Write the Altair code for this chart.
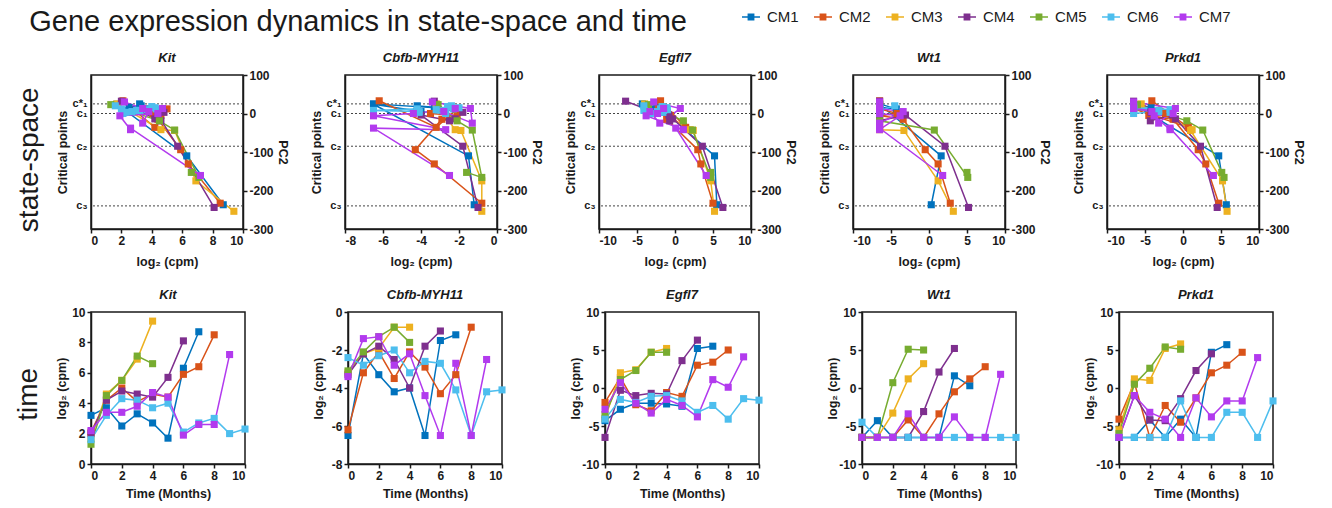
import altair as alt
import pandas as pd

FONT = "Liberation Sans"
INK = "#1a1a1a"

CMS = ["CM1", "CM2", "CM3", "CM4", "CM5", "CM6", "CM7"]
COLORS = ["#0072BD", "#D95319", "#EDB120", "#7E2F8E", "#77AC30", "#4DBEEE", "#B23AEE"]
GENES = ["Kit", "Cbfb-MYH11", "Egfl7", "Wt1", "Prkd1"]

# PC2 (state-space) position of each CM at each month
PC2 = {
    "CM1": [25, 12, 16, 20, 5, 24, -110, -237],
    "CM2": [33, -36, 12, 0, -5, -15, -94, -131, -233],
    "CM3": [25, -42, -44, -175, -254],
    "CM4": [32, -14, 3, -19, -4, -85, -244],
    "CM5": [23, -19, -43, -166, -153],
    "CM6": [20, 8, 12, 15, 10, 18, 0, 5, 8, 12, 3],
    "CM7": [30, 13, -25, 5, 13, 0, -6, -42, -38, -161],
}

# log2(cpm) per month
KIT = {
    "CM1": [3.2, 3.7, 2.5, 3.3, 2.7, 1.7, 6.3, 8.7],
    "CM2": [2.1, 4.2, 5.0, 4.1, 4.6, 4.4, 5.9, 6.4, 8.5],
    "CM3": [1.7, 4.6, 5.5, 6.9, 9.4],
    "CM4": [2.0, 4.2, 4.8, 4.6, 4.4, 5.7, 8.1],
    "CM5": [1.3, 4.5, 5.5, 7.1, 6.6],
    "CM6": [1.6, 3.2, 4.3, 4.2, 3.7, 4.0, 2.1, 2.7, 3.0, 2.0, 2.3],
    "CM7": [2.2, 3.4, 3.4, 3.8, 4.7, 4.4, 1.9, 2.6, 2.6, 7.2],
}
CBFB = {
    "CM1": [-6.5, -2.2, -3.3, -4.2, -4.0, -6.5, -1.5, -1.2],
    "CM2": [-6.2, -3.2, -2.1, -3.5, -2.1, -2.9, -4.3, -3.3, -0.8],
    "CM3": [-3.2, -2.2, -1.9, -0.8, -0.8],
    "CM4": [-3.3, -2.2, -1.8, -2.5, -4.0, -1.8, -1.0],
    "CM5": [-3.1, -2.1, -1.3, -0.8, -1.6],
    "CM6": [-2.4, -2.8, -2.3, -2.0, -3.2, -2.6, -2.7, -4.1, -6.5, -4.2, -4.1],
    "CM7": [-3.4, -1.4, -1.3, -2.8, -2.2, -4.4, -6.5, -2.7, -6.5, -2.5],
}
EGFL7 = {
    "CM1": [-4.3, -2.8, -2.0, -2.0, -2.1, -2.4, 5.2, 5.5],
    "CM2": [-1.9, 1.4, -2.2, -3.0, -0.6, -1.1, 3.0, 3.4, 5.0],
    "CM3": [-4.0, 2.0, 2.4, 4.7, 5.2],
    "CM4": [-6.5, -0.3, -1.0, -0.7, -0.8, 3.6, 6.3],
    "CM5": [-3.5, 1.1, 2.3, 4.7, 4.7],
    "CM6": [-4.1, -1.5, -1.9, -1.1, -1.0, -1.7, -3.2, -2.3, -4.1, -1.4, -1.6],
    "CM7": [-2.8, 0.7, -2.0, -3.3, -1.5, -2.3, -3.8, 1.1, 0.1, 4.1],
}
WT1 = {
    "CM1": [-6.5, -4.3, -6.5, -6.5, -6.5, -6.5, 1.6, 0.3],
    "CM2": [-6.5, -6.5, -6.5, -4.2, -6.5, -3.4, -0.5, 1.2, 2.8],
    "CM3": [-6.5, -6.5, -3.3, 1.2, 3.2],
    "CM4": [-6.5, -6.5, -6.5, -6.5, -3.1, 2.1, 5.2],
    "CM5": [-6.5, -6.5, 0.7, 5.1, 5.0],
    "CM6": [-4.5, -6.5, -6.5, -6.5, -6.5, -6.5, -6.5, -6.5, -6.5, -6.5, -6.5],
    "CM7": [-6.5, -6.5, -6.5, -3.4, -6.5, -6.5, -3.8, -6.5, -6.5, 1.8],
}
PRKD1 = {
    "CM1": [-6.5, -6.5, -4.2, -6.5, -4.1, -6.5, 4.7, 5.7],
    "CM2": [-4.1, 0.7, -6.5, -2.3, -4.5, -1.3, 2.0, 3.0, 4.7],
    "CM3": [-5.5, 1.2, 1.0, 5.2, 5.8],
    "CM4": [-6.5, -1.0, -4.2, -4.3, -1.4, 2.3, 4.5],
    "CM5": [-6.0, 0.5, 2.6, 5.4, 5.1],
    "CM6": [-6.5, -6.5, -6.5, -6.5, -1.7, -6.5, -6.5, -3.2, -3.2, -6.5, -1.7],
    "CM7": [-6.5, -1.0, -3.2, -4.1, -6.5, -1.3, -3.8, -1.7, -1.7, 4.0],
}
EXPR = {"Kit": KIT, "Cbfb-MYH11": CBFB, "Egfl7": EGFL7, "Wt1": WT1, "Prkd1": PRKD1}

CRIT_VALUES = [25, 0, -85, -240]
CRIT_LABELS = ["c*₁", "c₁", "c₂", "c₃"]
PC2_TICKS = [-300, -200, -100, 0, 100]

TOP_X = {"Kit": [0, 2, 4, 6, 8, 10], "Cbfb-MYH11": [-8, -6, -4, -2, 0],
         "Egfl7": [-10, -5, 0, 5, 10], "Wt1": [-10, -5, 0, 5, 10], "Prkd1": [-10, -5, 0, 5, 10]}
BOT_Y = {"Kit": [0, 2, 4, 6, 8, 10], "Cbfb-MYH11": [-8, -6, -4, -2, 0],
         "Egfl7": [-10, -5, 0, 5, 10], "Wt1": [-10, -5, 0, 5, 10], "Prkd1": [-10, -5, 0, 5, 10]}
MONTH_TICKS = [0, 2, 4, 6, 8, 10]

rows = []
for g in GENES:
    for cm in CMS:
        for t, v in enumerate(EXPR[g][cm]):
            rows.append({"gene": g, "cm": cm, "month": t, "expr": v, "pc2": PC2[cm][t]})
df = pd.DataFrame(rows)
crit_df = pd.DataFrame({"v": CRIT_VALUES, "lab": CRIT_LABELS})

crit_expr = " : ".join(
    f"datum.value == {v} ? '{l}'" for v, l in zip(CRIT_VALUES[:-1], CRIT_LABELS[:-1])
) + f" : '{CRIT_LABELS[-1]}'"

LEGEND_SYMBOL = "M-1,-0.08H1V0.08H-1Z M-0.38,-0.38H0.38V0.38H-0.38Z"
LEGEND = alt.Legend(orient="none", legendX=651, legendY=-67, direction="horizontal",
                    columns=7, title=None, symbolType=LEGEND_SYMBOL, symbolSize=324,
                    symbolStrokeWidth=0, labelFont=FONT, labelFontSize=15,
                    labelColor=INK, labelOffset=7, columnPadding=15)
COLOR = alt.Color("cm:N", scale=alt.Scale(domain=CMS, range=COLORS), legend=LEGEND)


def panel_title(g):
    return alt.TitleParams(g, font=FONT, fontSize=13, fontStyle="italic", fontWeight="bold",
                           color=INK, offset=4)


def top_panel(g):
    d = df[df.gene == g]
    ticks = TOP_X[g]
    xs = alt.Scale(domain=[ticks[0], ticks[-1]], nice=False, zero=False)
    ys = alt.Scale(domain=[-300, 100], nice=False, zero=False)
    xax = alt.Axis(values=ticks, title="log₂ (cpm)", labelExpr="'' + datum.value",
                   titlePadding=9)
    rules = alt.Chart(crit_df).mark_rule(strokeDash=[2, 2], color="#444", strokeWidth=1).encode(
        y=alt.Y("v:Q", scale=ys,
                axis=alt.Axis(orient="left", values=CRIT_VALUES, labelExpr=crit_expr,
                              labelOverlap=False, ticks=False, labelPadding=4,
                              labelFontSize=11, title="Critical points", titlePadding=2,
                              minExtent=20, maxExtent=20))
    )
    lines = alt.Chart(d).mark_line(strokeWidth=1.5).encode(
        x=alt.X("expr:Q", scale=xs, axis=xax),
        y=alt.Y("pc2:Q", scale=ys,
                axis=alt.Axis(orient="right", values=PC2_TICKS, title="PC2",
                              labelExpr="'' + datum.value", titlePadding=2,
                              minExtent=30, maxExtent=30)),
        color=COLOR,
        order=alt.Order("month:Q"),
    )
    pts = alt.Chart(d).mark_point(shape="square", filled=True, size=50, opacity=1).encode(
        x=alt.X("expr:Q", scale=xs, axis=xax),
        y=alt.Y("pc2:Q", scale=ys, axis=None),
        color=COLOR,
    )
    return alt.layer(rules, lines, pts).resolve_axis(y="independent").properties(
        width=152, height=154, title=panel_title(g))


def bottom_panel(g):
    d = df[df.gene == g]
    ticks = BOT_Y[g]
    xs = alt.Scale(domain=[0, 10], nice=False, zero=False)
    ys = alt.Scale(domain=[ticks[0], ticks[-1]], nice=False, zero=False)
    xax = alt.Axis(values=MONTH_TICKS, title="Time (Months)", labelExpr="'' + datum.value",
                   titlePadding=6)
    yax = alt.Axis(values=ticks, title="log₂ (cpm)", labelExpr="'' + datum.value",
                   titlePadding=1, minExtent=22, maxExtent=22)
    lines = alt.Chart(d).mark_line(strokeWidth=1.5).encode(
        x=alt.X("month:Q", scale=xs, axis=xax),
        y=alt.Y("expr:Q", scale=ys, axis=yax),
        color=COLOR,
        order=alt.Order("month:Q"),
    )
    pts = alt.Chart(d).mark_point(shape="square", filled=True, size=50, opacity=1).encode(
        x=alt.X("month:Q", scale=xs, axis=xax),
        y=alt.Y("expr:Q", scale=ys, axis=yax),
        color=COLOR,
    )
    return alt.layer(lines, pts).properties(width=154, height=152, title=panel_title(g))


def row_title(text):
    return alt.TitleParams(text, orient="left", anchor="middle", font=FONT, fontSize=28,
                           fontWeight="normal", color=INK, offset=11)


top_row = alt.hconcat(*[top_panel(g) for g in GENES], spacing=20).properties(
    title=row_title("state-space"))
bot_row = alt.hconcat(*[bottom_panel(g) for g in GENES], spacing=61).properties(
    title=row_title("time"))

chart = alt.vconcat(top_row, bot_row, spacing=19).properties(
    title=alt.TitleParams("Gene expression dynamics in state-space and time", anchor="start",
                          font=FONT, fontSize=29, fontWeight="normal", color=INK, offset=0,
                          dx=14, dy=29),
    padding={"left": 7, "top": 0, "right": 0, "bottom": 0},
).configure_axis(
    labelFont=FONT, titleFont=FONT, labelFontSize=12, titleFontSize=12.5,
    labelFontWeight="bold", titleFontWeight="bold", labelColor=INK, titleColor=INK,
    domainColor=INK, tickColor=INK, domainWidth=1.5, tickWidth=1.5, tickSize=4,
    grid=False, labelPadding=2,
).configure_view(stroke=INK, strokeWidth=1.5).configure_legend(
    labelFont=FONT
)

chart.save("out.html", embed_options={"renderer": "svg", "actions": False})
